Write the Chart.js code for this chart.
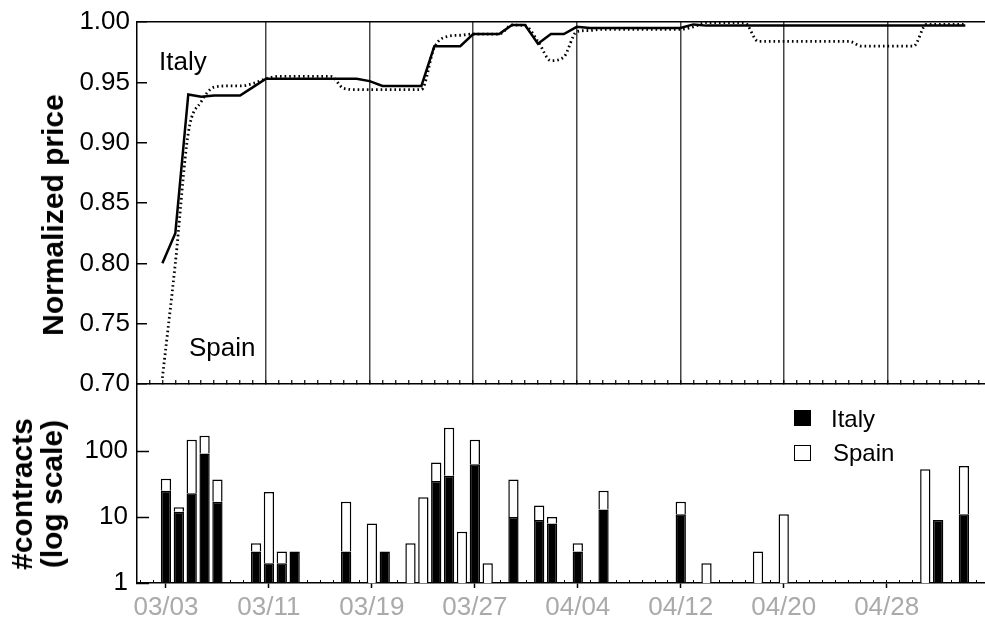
<!DOCTYPE html>
<html>
<head>
<meta charset="utf-8">
<title>Normalized price and contracts</title>
<script src="https://cdn.jsdelivr.net/npm/chart.js@4.4.1/dist/chart.umd.min.js"></script>
<style>
    html, body { margin: 0; padding: 0; background: #fff; }
    #wrap { position: relative; width: 985px; height: 624px; overflow: hidden; font-family: 'Liberation Sans', Arial, sans-serif; color: #000; }
    canvas { position: absolute; left: 0; top: 0; }
    .axis-title { position: absolute; font-weight: bold; font-size: 30px; line-height: 30px; white-space: nowrap; text-align: center; transform: translate(-50%, -50%) rotate(-90deg); }
    .note { position: absolute; font-size: 26px; line-height: 26px; white-space: nowrap; }
    .swatch { position: absolute; width: 17px; height: 16px; box-sizing: border-box; border: 1px solid #000; }
    .legend-text { position: absolute; font-size: 24px; line-height: 24px; white-space: nowrap; }
</style>
</head>
<body>
<div id="wrap">
    <canvas id="countChart" width="985" height="624"></canvas>
    <canvas id="priceChart" width="985" height="624"></canvas>

    <div class="axis-title" style="left:53px; top:215px;">Normalized price</div>
    <div class="axis-title" style="left:37px; top:494px;">#contracts<br>(log scale)</div>

    <div class="note" style="left:159px; top:48px;">Italy</div>
    <div class="note" style="left:189px; top:334px;">Spain</div>

    <div class="swatch" style="left:794px; top:410px; background:#000;"></div>
    <div class="legend-text" style="left:831px; top:407px;">Italy</div>
    <div class="swatch" style="left:794px; top:445px; background:#fff;"></div>
    <div class="legend-text" style="left:833px; top:441px;">Spain</div>
</div>

<script>
// Normalized price, one value per day starting 03/03 (day 0)
const italyPrice = [
    0.800, 0.825, 0.940, 0.938, 0.939, 0.939, 0.939, 0.946, 0.953, 0.953,
    0.953, 0.953, 0.953, 0.953, 0.953, 0.953, 0.951, 0.947, 0.947, 0.947,
    0.947, 0.980, 0.980, 0.980, 0.990, 0.990, 0.990, 0.9975, 0.9975, 0.982,
    0.990, 0.990, 0.996, 0.995, 0.995, 0.995, 0.995, 0.995, 0.995, 0.995,
    0.995, 0.998, 0.997, 0.997, 0.997, 0.997, 0.997, 0.997, 0.997, 0.997,
    0.997, 0.997, 0.997, 0.997, 0.997, 0.997, 0.997, 0.997, 0.997, 0.997,
    0.997, 0.997, 0.997
];
const spainPrice = [
    0.705, 0.800, 0.908, 0.934, 0.946, 0.947, 0.947, 0.949, 0.953, 0.955,
    0.955, 0.955, 0.955, 0.955, 0.945, 0.944, 0.944, 0.944, 0.944, 0.944,
    0.944, 0.979, 0.988, 0.989, 0.990, 0.990, 0.990, 0.9975, 0.997, 0.984,
    0.968, 0.971, 0.992, 0.993, 0.994, 0.994, 0.994, 0.994, 0.994, 0.994,
    0.994, 0.996, 0.9995, 0.9995, 0.9995, 0.999, 0.984, 0.984, 0.984, 0.984,
    0.984, 0.984, 0.984, 0.984, 0.980, 0.980, 0.980, 0.980, 0.980, 0.998,
    0.998, 0.998, 0.998
];

// Daily number of contracts (day index since 03/03)
const barDays     = [0, 1, 2, 3, 4, 7, 8, 9, 10, 14, 16, 17, 19, 20, 21, 22, 23, 24, 25, 27, 29, 30, 32, 34, 40, 42, 46, 48, 59, 60, 62];
const italyCounts = [25, 12, 23, 92, 17, 3, 2, 2, 3, 3, null, 3, null, null, 35, 42, null, 63, null, 10, 9, 8, 3, 13, 11, null, null, null, null, 9, 11];
const spainCounts = [13, 2, 125, 78, 20, 1, 22, 1, null, 14, 8, null, 4, 20, 32, 183, 6, 85, 2, 27, 6, 2, 1, 12, 6, 2, 3, 11, 53, null, 48];

// Axis ticks
const dateLabels = ['03/03', '03/11', '03/19', '03/27', '04/04', '04/12', '04/20', '04/28'];
const labelStep = 8;
const priceTicks = [0.70, 0.75, 0.80, 0.85, 0.90, 0.95, 1.00];
const countTicks = [1, 10, 100];

Chart.defaults.font.family = "'Liberation Sans', Arial, sans-serif";
Chart.defaults.color = '#000';
Chart.defaults.animation = false;

const clear = 'rgba(0,0,0,0)';

// Date label for a day index, '' if it is not a labelled day
function labelFor(v) {
    if (!Number.isInteger(v) || v < 0 || v % labelStep !== 0) return '';
    return dateLabels[v / labelStep] || '';
}

// Fixed-width y axis that does not push the plot area around
function fixYAxis(s) {
    s.width = 137;
    s.paddingTop = 0;
    s.paddingBottom = 0;
}

// Top chart: price lines
new Chart(document.getElementById('priceChart'), {
    type: 'line',
    data: {
        datasets: [{
            label: 'Italy',
            data: italyPrice.map((v, i) => ({ x: i, y: v })),
            borderColor: '#000',
            borderWidth: 2.5,
            pointRadius: 0,
            tension: 0
        }, {
            label: 'Spain',
            data: spainPrice.map((v, i) => ({ x: i, y: v })),
            borderColor: '#000',
            borderWidth: 2.8,
            borderDash: [1.6, 3],
            pointRadius: 0,
            cubicInterpolationMode: 'monotone'
        }]
    },
    options: {
        responsive: false,
        animation: false,
        layout: { padding: { top: 22, bottom: 240, left: 0, right: 0 } },
        plugins: { legend: { display: false }, tooltip: { enabled: false } },
        scales: {
            x: {
                type: 'linear',
                min: -1.96,
                max: 63.52,
                ticks: { display: false, stepSize: 1, includeBounds: false, autoSkip: false },
                grid: {
                    color: c => (c.tick && c.tick.value > 0 && labelFor(c.tick.value)) ? '#444' : clear,
                    lineWidth: 1.5,
                    tickLength: -4,
                    tickColor: '#000',
                    tickWidth: 1.2
                },
                border: { color: '#000', width: 1.5 },
                afterFit: s => { s.height = 0; }
            },
            y: {
                type: 'linear',
                min: 0.70,
                max: 1.00,
                afterBuildTicks: s => { s.ticks = priceTicks.map(v => ({ value: v })); },
                ticks: { callback: v => v.toFixed(2), font: { size: 26 }, color: '#000', padding: 17 },
                grid: {
                    color: c => (c.tick && c.tick.value > 0.999) ? '#000' : clear,
                    lineWidth: 1.5,
                    tickLength: -10,
                    tickColor: '#000',
                    tickWidth: 1.5
                },
                border: { color: '#000', width: 1.5 },
                afterFit: fixYAxis
            }
        }
    }
});

// Bottom chart: stacked contract counts on a log scale
new Chart(document.getElementById('countChart'), {
    type: 'bar',
    data: {
        datasets: [{
            label: 'Italy',
            data: barDays.map((d, k) => ({ x: d, y: italyCounts[k] })),
            backgroundColor: '#000',
            borderColor: '#000',
            borderWidth: 1.5,
            xAxisID: 'x',
            yAxisID: 'y'
        }, {
            label: 'Spain',
            data: barDays.map((d, k) => ({ x: d, y: spainCounts[k] })),
            backgroundColor: '#fff',
            borderColor: '#000',
            borderWidth: 1.5,
            xAxisID: 'x',
            yAxisID: 'y'
        }]
    },
    options: {
        responsive: false,
        animation: false,
        datasets: { bar: { barPercentage: 0.8, categoryPercentage: 1 } },
        layout: { padding: { top: 385, bottom: 0, left: 0, right: 0 } },
        plugins: { legend: { display: false }, tooltip: { enabled: false } },
        scales: {
            xMinor: {
                type: 'linear',
                position: 'bottom',
                weight: -1,
                offset: false,
                min: -2.25,
                max: 63.64,
                ticks: { display: false, stepSize: 1, includeBounds: false, autoSkip: false },
                grid: { offset: false, drawOnChartArea: false, tickLength: -3, tickColor: '#000', tickWidth: 1 },
                border: { display: false },
                afterFit: s => { s.height = 0; }
            },
            x: {
                type: 'linear',
                position: 'bottom',
                offset: false,
                min: -2.25,
                max: 63.64,
                stacked: true,
                ticks: {
                    stepSize: 1,
                    includeBounds: false,
                    autoSkip: false,
                    maxRotation: 0,
                    minRotation: 0,
                    callback: v => labelFor(v),
                    color: '#aaaaaa',
                    font: { size: 26 },
                    padding: 4
                },
                grid: {
                    offset: false,
                    drawOnChartArea: false,
                    tickLength: 5,
                    tickColor: c => (c.tick && labelFor(c.tick.value)) ? '#000' : clear,
                    tickWidth: 1.5
                },
                border: { color: '#000', width: 1.5 },
                afterFit: s => { s.height = 41; }
            },
            y: {
                type: 'logarithmic',
                min: 1,
                max: 1000,
                stacked: true,
                afterBuildTicks: s => { s.ticks = countTicks.map(v => ({ value: v })); },
                ticks: { callback: v => String(v), font: { size: 26 }, color: '#000', padding: 21, autoSkip: false },
                grid: { drawOnChartArea: false, tickLength: -12, tickColor: '#000', tickWidth: 1.5 },
                border: { color: '#000', width: 1.5 },
                afterFit: fixYAxis
            }
        }
    }
});
</script>
</body>
</html>
